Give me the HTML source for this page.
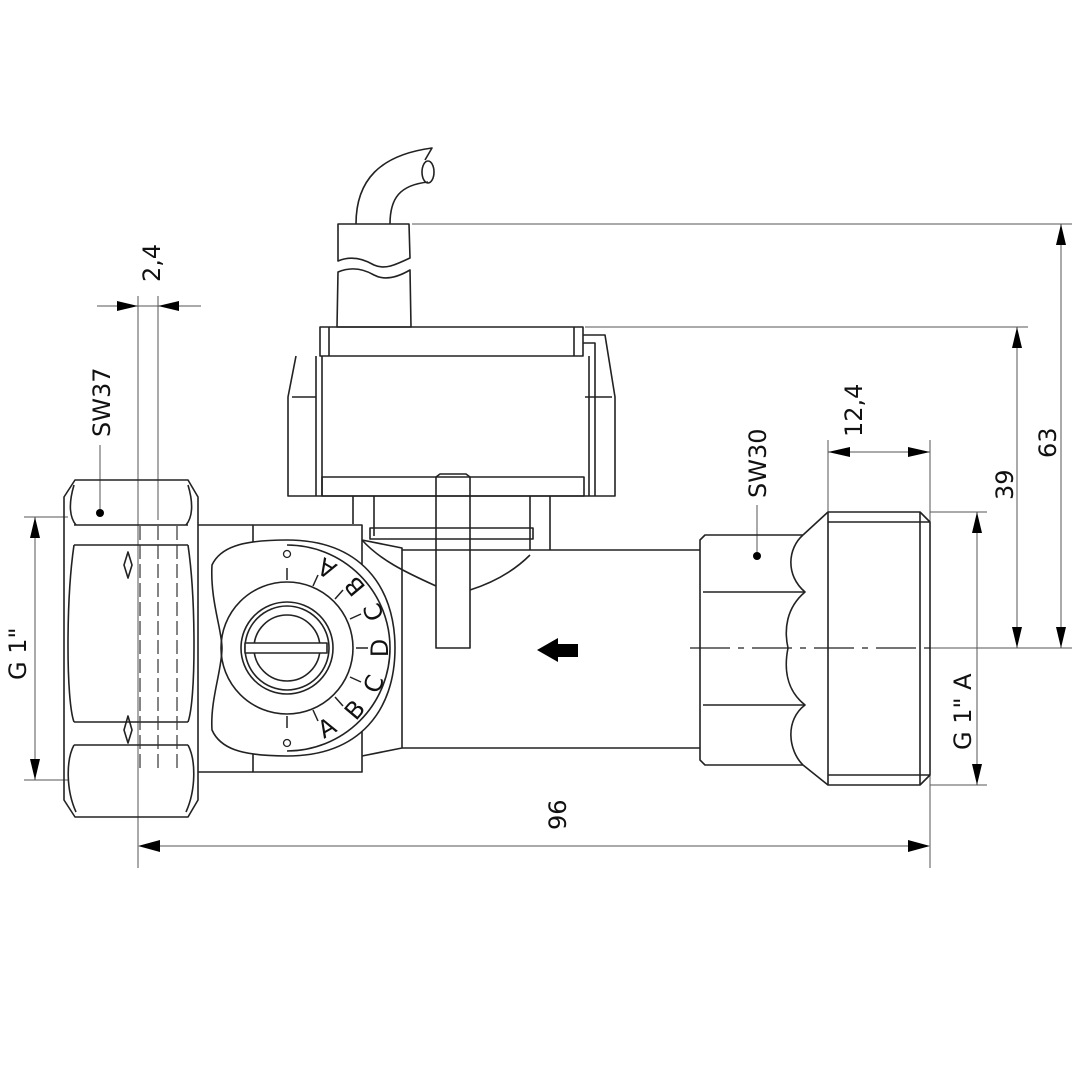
<!DOCTYPE html>
<html><head><meta charset="utf-8"><style>
html,body{margin:0;padding:0;background:#fff;}
svg{display:block;}
text{font-family:"DejaVu Sans","Liberation Sans",sans-serif;fill:#111;}
</style></head><body>
<svg width="1080" height="1080" viewBox="0 0 1080 1080" xmlns="http://www.w3.org/2000/svg">
<g stroke="#555" stroke-width="1" fill="none">
<line x1="412" y1="224" x2="1072" y2="224"/>
<line x1="585" y1="327" x2="1028" y2="327"/>
<line x1="930" y1="512" x2="987" y2="512"/>
<line x1="930" y1="785" x2="987" y2="785"/>
<line x1="138" y1="296" x2="138" y2="868"/>
<line x1="158" y1="296" x2="158" y2="520"/>
<line x1="930" y1="440" x2="930" y2="868"/>
<line x1="828" y1="440" x2="828" y2="512"/>
<line x1="24" y1="517" x2="68" y2="517"/>
<line x1="24" y1="780" x2="68" y2="780"/>
<line x1="930" y1="648" x2="1072" y2="648"/>
<line x1="160" y1="846" x2="908" y2="846"/>
<line x1="97" y1="306" x2="201" y2="306"/>
<line x1="828" y1="452" x2="930" y2="452"/>
<line x1="35" y1="517" x2="35" y2="780"/>
<line x1="1061" y1="224" x2="1061" y2="648"/>
<line x1="1017" y1="327" x2="1017" y2="648"/>
<line x1="977" y1="512" x2="977" y2="785"/>
<line x1="100" y1="445" x2="100" y2="513"/>
<line x1="757" y1="505" x2="757" y2="556"/>
</g>
<g fill="#000">
<path d="M138,846 L160,840 L160,852Z"/><path d="M930,846 L908,840 L908,852Z"/>
<path d="M138,306 L117,301 L117,311Z"/><path d="M158,306 L179,301 L179,311Z"/>
<path d="M828,452 L850,447 L850,457Z"/><path d="M930,452 L908,447 L908,457Z"/>
<path d="M35,517 L30,538 L40,538Z"/><path d="M35,780 L30,759 L40,759Z"/>
<path d="M1061,224 L1056,245 L1066,245Z"/><path d="M1061,648 L1056,627 L1066,627Z"/>
<path d="M1017,327 L1012,348 L1022,348Z"/><path d="M1017,648 L1012,627 L1022,627Z"/>
<path d="M977,512 L972,533 L982,533Z"/><path d="M977,785 L972,764 L982,764Z"/>
<circle cx="100" cy="513" r="4"/><circle cx="757" cy="556" r="4"/>
<path d="M537,650 L558,638 L558,644 L578,644 L578,657 L558,657 L558,662Z"/>
</g>
<g font-size="24">
<text transform="translate(566,830) rotate(-90)">96</text>
<text transform="translate(160,282) rotate(-90)">2,4</text>
<text transform="translate(110,437) rotate(-90)">SW37</text>
<text transform="translate(26,680) rotate(-90)">G 1"</text>
<text transform="translate(766,498) rotate(-90)">SW30</text>
<text transform="translate(862,437) rotate(-90)">12,4</text>
<text transform="translate(1056,458) rotate(-90)">63</text>
<text transform="translate(1013,500) rotate(-90)">39</text>
<text transform="translate(971,750) rotate(-90)">G 1" A</text>
</g>
<g stroke="#222" stroke-width="1.6" fill="none" stroke-linejoin="round">
<path d="M356,224 C356,180 380,155 432,148 L425,160"/>
<path d="M390,224 C390,198 400,185 428,182"/>
<ellipse cx="428" cy="172" rx="6" ry="11"/>
<path d="M338,224 L409,224 L410,258 C395,265 385,270 374,265 C362,258 350,256 338,261 Z"/>
<path d="M338,272 C350,267 362,268 374,275 C385,281 398,277 410,270 L411,327 L337,327 Z"/>
<rect x="320" y="327" width="263" height="29"/>
<line x1="329" y1="327" x2="329" y2="356"/><line x1="574" y1="327" x2="574" y2="356"/>
<path d="M296,356 L288,397 L288,496 L615,496 L615,397 L605,335 L583,335"/>
<line x1="292" y1="397" x2="316" y2="397"/><line x1="316" y1="356" x2="316" y2="496"/>
<line x1="322" y1="356" x2="322" y2="496"/>
<line x1="589" y1="356" x2="589" y2="496"/><line x1="585" y1="397" x2="612" y2="397"/>
<path d="M583,343 L595,343 L595,496"/>
<rect x="322" y="477" width="262" height="19"/>
<path d="M353,496 L353,524"/><path d="M374,496 L374,536"/>
<path d="M530,496 L530,550"/><path d="M550,496 L550,550"/>
<rect x="370" y="528" width="163" height="11"/>
<path d="M362,540 C380,560 405,572 436,586"/>
<path d="M530,555 C515,570 495,582 470,590"/>
<path d="M436,477 L436,648 L470,648 L470,477 L466,474 L440,474 Z"/>
<path d="M362,540 L402,548 L402,748 L362,756"/>
<line x1="402" y1="550" x2="700" y2="550"/><line x1="402" y1="748" x2="700" y2="748"/>
<rect x="253" y="525" width="109" height="247"/>
<line x1="198" y1="525" x2="253" y2="525"/><line x1="198" y1="772" x2="253" y2="772"/>
<path d="M287,540 C240,540 220,548 212,565 C210,600 222,630 222,648 C222,670 210,700 212,730 C220,748 240,756 287,756 C360,756 395,710 395,648 C395,586 360,540 287,540 Z" fill="#fff"/>
<path d="M287,545 A103,103 0 0 1 287,751"/>
<circle cx="287" cy="648" r="66"/>
<circle cx="287" cy="648" r="46"/>
<circle cx="287" cy="648" r="42"/>
<circle cx="287" cy="648" r="33"/>
<rect x="245" y="643" width="82" height="10" fill="#fff"/>
<path d="M75,480 L188,480 L198,497 L198,800 L188,817 L75,817 L64,800 L64,497 Z"/>
<path d="M74,485 C68,505 70,518 76,525 M188,485 C194,505 192,518 186,525"/>
<line x1="74" y1="525" x2="188" y2="525"/><line x1="74" y1="545" x2="188" y2="545"/>
<path d="M74,545 C66,600 66,700 74,722 M188,545 C196,600 196,700 188,722"/>
<line x1="74" y1="722" x2="188" y2="722"/><line x1="74" y1="745" x2="188" y2="745"/>
<path d="M74,745 C66,760 66,790 76,812 M188,745 C196,760 196,790 186,812"/>
<path d="M128,552 L132,565 L128,578 L124,565 Z M128,716 L132,730 L128,743 L124,730 Z"/>
<path d="M803,535 L705,535 L700,540 L700,760 L705,765 L803,765"/>
<path d="M803,535 C788,548 785,575 805,592 C786,608 784,630 788,648 C784,668 786,690 805,705 C785,720 788,750 803,765"/>
<line x1="703" y1="592" x2="805" y2="592"/><line x1="703" y1="705" x2="805" y2="705"/>
<path d="M803,535 L828,512 L920,512 L930,522 L930,775 L920,785 L828,785 L803,765"/>
<line x1="828" y1="512" x2="828" y2="785"/><line x1="920" y1="512" x2="920" y2="785"/>
<line x1="828" y1="522" x2="930" y2="522"/><line x1="828" y1="775" x2="930" y2="775"/>
</g>
<g stroke="#333" stroke-width="1.2" fill="none" stroke-dasharray="14,5">
<line x1="140" y1="526" x2="140" y2="770"/><line x1="158" y1="526" x2="158" y2="770"/><line x1="177" y1="526" x2="177" y2="770"/>
</g>
<line x1="690" y1="648" x2="930" y2="648" stroke="#222" stroke-width="1.2" stroke-dasharray="40,8,6,8"/>
<g stroke="#222" stroke-width="1.5">
<line x1="287" y1="568" x2="287" y2="580"/>
<line x1="287" y1="716" x2="287" y2="728"/>
<line x1="318" y1="575" x2="313" y2="586"/>
<line x1="343" y1="590" x2="335" y2="599"/>
<line x1="361" y1="614" x2="350" y2="619"/>
<line x1="368" y1="648" x2="356" y2="648"/>
<line x1="361" y1="682" x2="350" y2="677"/>
<line x1="343" y1="706" x2="335" y2="697"/>
<line x1="318" y1="721" x2="313" y2="710"/>
</g>
<circle cx="287" cy="554" r="3.5" fill="none" stroke="#222" stroke-width="1.3"/>
<circle cx="287" cy="743" r="3.5" fill="none" stroke="#222" stroke-width="1.3"/>
<g font-size="24" text-anchor="middle" dominant-baseline="central">
<text transform="translate(327,568) rotate(-150)">A</text>
<text transform="translate(355,586) rotate(-130)">B</text>
<text transform="translate(374,612) rotate(-110)">C</text>
<text transform="translate(380,648) rotate(-90)">D</text>
<text transform="translate(374,684) rotate(-70)">C</text>
<text transform="translate(355,710) rotate(-50)">B</text>
<text transform="translate(327,728) rotate(-30)">A</text>
</g>
</svg>
</body></html>
